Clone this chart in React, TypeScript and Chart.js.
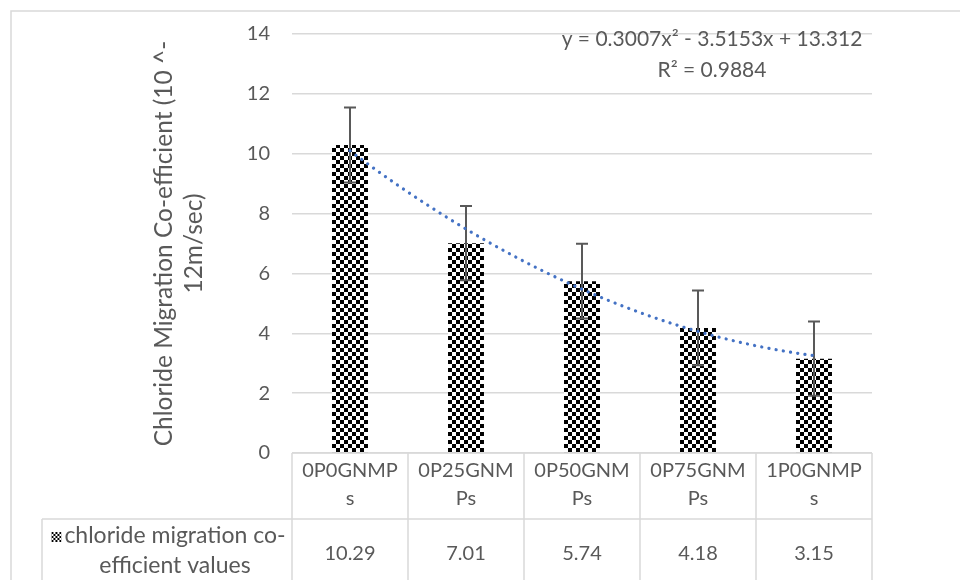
import React, { useEffect, useRef } from "react";
import { Chart, registerables } from "chart.js";

Chart.register(...registerables);

// ---- data ----
const CATEGORY_LINES: string[][] = [
  ["0P0GNMP", "s"],
  ["0P25GNM", "Ps"],
  ["0P50GNM", "Ps"],
  ["0P75GNM", "Ps"],
  ["1P0GNMP", "s"],
];
const VALUES = [10.29, 7.01, 5.74, 4.18, 3.15];
const VALUE_LABELS = ["10.29", "7.01", "5.74", "4.18", "3.15"];
const ERRORS = [1.25, 1.24, 1.25, 1.25, 1.24];
const TREND_COEFFS = [0.3007, -3.5153, 13.312]; // a x^2 + b x + c
const TREND_TEXT = ["y = 0.3007x² - 3.5153x + 13.312", "R² = 0.9884"];
const SERIES_NAME_LINES = ["chloride migration co-", "efficient values"];
const Y_TITLE_LINES = ["Chloride Migration Co-efficient (10 ^-", "12m/sec)"];
const Y_MIN = 0;
const Y_MAX = 14;
const Y_STEP = 2;

const FONT = "Lato, 'Open Sans', sans-serif";
const TEXT = "#595959";
const GRID = "#d9d9d9";

function makePattern(cell: number): CanvasPattern | string {
  const c = document.createElement("canvas");
  c.width = cell * 2;
  c.height = cell * 2;
  const g = c.getContext("2d");
  if (!g) return "#000";
  g.fillStyle = "#ffffff";
  g.fillRect(0, 0, cell * 2, cell * 2);
  g.fillStyle = "#000000";
  g.fillRect(0, 0, cell, cell);
  g.fillRect(cell, cell, cell, cell);
  return g.createPattern(c, "repeat") as CanvasPattern;
}

const extrasPlugin = {
  id: "extras",
  beforeDraw(chart: any) {
    const ctx = chart.ctx as CanvasRenderingContext2D;
    ctx.save();
    ctx.fillStyle = "#ffffff";
    ctx.fillRect(0, 0, chart.width, chart.height);
    ctx.strokeStyle = GRID;
    ctx.lineWidth = 1.5;
    ctx.strokeRect(11, 11, 2000, 2000);
    ctx.restore();
  },
  afterDatasetsDraw(chart: any) {
    const ctx = chart.ctx as CanvasRenderingContext2D;
    const xs = chart.scales.x;
    const ys = chart.scales.y;
    // error bars
    ctx.save();
    ctx.strokeStyle = "#595959";
    ctx.lineWidth = 2;
    VALUES.forEach((v, i) => {
      const x = xs.getPixelForValue(i);
      const yT = ys.getPixelForValue(v + ERRORS[i]);
      const yB = ys.getPixelForValue(v - ERRORS[i]);
      ctx.beginPath();
      ctx.moveTo(x, yT);
      ctx.lineTo(x, yB);
      ctx.moveTo(x - 6, yT);
      ctx.lineTo(x + 6, yT);
      ctx.moveTo(x - 6, yB);
      ctx.lineTo(x + 6, yB);
      ctx.stroke();
    });
    ctx.restore();
    // polynomial trendline
    const [a, b, c] = TREND_COEFFS;
    const x0 = xs.getPixelForValue(0);
    const step = xs.getPixelForValue(1) - x0;
    const n = VALUES.length;
    ctx.save();
    ctx.strokeStyle = "#4472C4";
    ctx.lineWidth = 3.2;
    ctx.lineCap = "round";
    ctx.setLineDash([0.1, 7.2]);
    ctx.beginPath();
    for (let t = 1; t <= n + 1e-9; t += 0.02) {
      const px = x0 + (t - 1) * step;
      const py = ys.getPixelForValue(a * t * t + b * t + c);
      if (t === 1) ctx.moveTo(px, py);
      else ctx.lineTo(px, py);
    }
    ctx.stroke();
    ctx.restore();
  },
  afterDraw(chart: any) {
    const ctx = chart.ctx as CanvasRenderingContext2D;
    const xs = chart.scales.x;
    const area = chart.chartArea;
    const step = xs.getPixelForValue(1) - xs.getPixelForValue(0);
    ctx.save();
    ctx.fillStyle = TEXT;
    ctx.textBaseline = "alphabetic";
    ctx.textAlign = "center";

    // y-axis title (rotated)
    ctx.font = `24.5px ${FONT}`;
    const midY = (area.top + area.bottom) / 2;
    const titleBase = [172, 202];
    Y_TITLE_LINES.forEach((line, i) => {
      ctx.save();
      ctx.translate(titleBase[i], midY);
      ctx.rotate(-Math.PI / 2);
      ctx.fillText(line, 0, 0);
      ctx.restore();
    });

    // trendline label
    ctx.font = `21px ${FONT}`;
    ctx.fillText(TREND_TEXT[0], 712, 46);
    ctx.fillText(TREND_TEXT[1], 712, 77);

    // data table
    const top = area.bottom;
    const row2 = top + 66;
    const left = area.left;
    const right = area.right;
    const legLeft = 42;
    ctx.strokeStyle = GRID;
    ctx.lineWidth = 1.5;
    ctx.beginPath();
    ctx.moveTo(left, top);
    ctx.lineTo(right, top);
    ctx.moveTo(legLeft, row2);
    ctx.lineTo(right, row2);
    ctx.moveTo(legLeft, row2);
    ctx.lineTo(legLeft, chart.height + 10);
    for (let i = 0; i <= VALUES.length; i++) {
      const x = left + i * step;
      ctx.moveTo(x, top);
      ctx.lineTo(x, chart.height + 10);
    }
    ctx.stroke();

    ctx.font = `20px ${FONT}`;
    CATEGORY_LINES.forEach((lines, i) => {
      const x = xs.getPixelForValue(i);
      lines.forEach((l, j) => ctx.fillText(l, x, top + 24 + j * 28));
    });
    VALUE_LABELS.forEach((l, i) => {
      ctx.fillText(l, xs.getPixelForValue(i), row2 + 41);
    });

    // legend cell
    ctx.font = `23px ${FONT}`;
    const legCenter = 175;
    SERIES_NAME_LINES.forEach((l, j) => ctx.fillText(l, legCenter, row2 + 24 + j * 30));
    const w0 = ctx.measureText(SERIES_NAME_LINES[0]).width;
    const mx = legCenter - w0 / 2 - 13;
    const my = row2 + 13;
    const pat = makePattern(2);
    ctx.fillStyle = pat as any;
    ctx.save();
    ctx.translate(mx, my);
    ctx.fillRect(0, 0, 10, 10);
    ctx.restore();
    ctx.restore();
  },
};

export default function App() {
  const ref = useRef<HTMLCanvasElement | null>(null);
  useEffect(() => {
    document.body.style.margin = "0";
    const canvas = ref.current;
    if (!canvas) return;
    const pattern = makePattern(4);
    const chart = new Chart(canvas, {
      type: "bar",
      data: {
        labels: CATEGORY_LINES.map((l) => l.join("")),
        datasets: [
          {
            label: SERIES_NAME_LINES.join(" "),
            data: VALUES,
            backgroundColor: pattern as any,
            borderWidth: 0,
            categoryPercentage: 1,
            barPercentage: 0.31,
          },
        ],
      },
      options: {
        responsive: false,
        animation: false,
        devicePixelRatio: 1,
        layout: { padding: { left: 232, top: 25, right: 88, bottom: 127 } },
        plugins: {
          legend: { display: false },
          tooltip: { enabled: false },
          title: { display: false },
        },
        scales: {
          x: { display: false },
          y: {
            min: Y_MIN,
            max: Y_MAX,
            ticks: {
              stepSize: Y_STEP,
              color: TEXT,
              padding: 22,
              font: { family: FONT, size: 20 },
            },
            grid: { color: GRID, lineWidth: 1.5, drawTicks: false },
            border: { display: false },
            afterFit: (s: any) => {
              s.width = 60;
            },
          },
        },
      },
      plugins: [extrasPlugin],
    });
    return () => chart.destroy();
  }, []);
  return <canvas ref={ref} width={960} height={580} style={{ display: "block", width: 960, height: 580 }} />;
}
